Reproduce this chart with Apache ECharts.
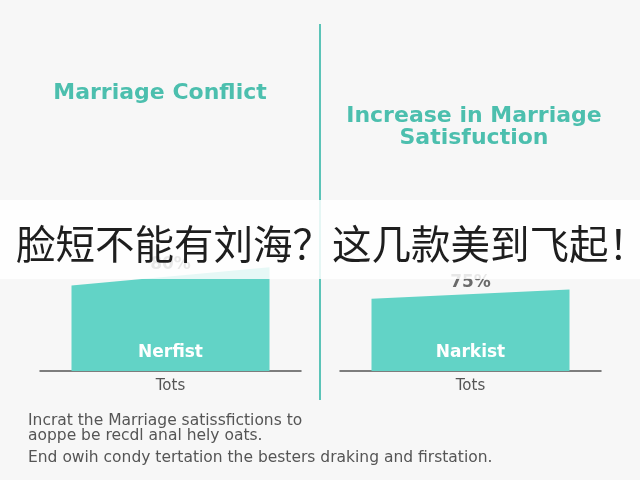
<!DOCTYPE html>
<html><head><meta charset="utf-8">
<script src="https://cdn.jsdelivr.net/npm/echarts@6/dist/echarts.min.js"></script>
<style>html,body{margin:0;padding:0;background:#f7f7f7}#c{width:640px;height:480px}</style>
</head><body><div id="c"></div>
<script>
// ---- data ----
var panelTitles = ['Marriage Conflict', 'Increase in Marriage\nSatisfuction'];
var categories = ['Tots'];
var barNames = ['Nerfist', 'Narkist'];
var valueLabels = ['80%', '75%'];
// bar top heights read at the left and right edges of each (slanted) bar
var leftEdgeValues = [84, 71];
var rightEdgeValues = [102, 80];
var footnotes = ['Incrat the Marriage satissfictions to', 'aoppe be recdl anal hely oats.', 'End owih condy tertation the besters draking and firstation.'];
var bannerText = '脸短不能有刘海？这几款美到飞起！';

var chart = echarts.init(document.getElementById('c'), null, {renderer: 'canvas'});
var teal = '#62d3c6';

function makeRender(panel) {
  return function (params, api) {
    var c = api.value(0);
    var lt = api.coord([c, api.value(1)]);
    var rt = api.coord([c, api.value(2)]);
    var base = api.coord([c, 0]);
    var w = 198;
    var x0 = base[0] - w / 2, x1 = base[0] + w / 2;
    return {
      type: 'group',
      children: [
        {type: 'polygon', shape: {points: [[x0, base[1]], [x0, lt[1]], [x1, rt[1]], [x1, base[1]]]}, style: {fill: teal}},
        {type: 'text', x: base[0], y: base[1] - 18, style: {text: barNames[panel], fill: '#ffffff', font: 'bold 17px "DejaVu Sans"', align: 'center', verticalAlign: 'middle'}},
        {type: 'text', x: base[0], y: (lt[1] + rt[1]) / 2 - 12, style: {text: valueLabels[panel], fill: '#6a6a6a', font: 'bold 17px "DejaVu Sans"', align: 'center', verticalAlign: 'middle'}}
      ]
    };
  };
}

function xAxisFor(i) {
  return {
    type: 'category', gridIndex: i, data: categories,
    axisLine: {show: true, lineStyle: {color: '#555', width: 1.5}},
    axisTick: {show: false},
    axisLabel: {color: '#555', fontSize: 15, fontFamily: 'DejaVu Sans', margin: 8}
  };
}
function yAxisFor(i) {
  return {type: 'value', gridIndex: i, min: 0, max: 110, show: false, splitLine: {show: false}};
}

var option = {
  backgroundColor: '#f7f7f7',
  animation: false,
  grid: [
    {left: 40, width: 261, top: 259, bottom: 109},
    {left: 340, width: 261, top: 259, bottom: 109}
  ],
  xAxis: [xAxisFor(0), xAxisFor(1)],
  yAxis: [yAxisFor(0), yAxisFor(1)],
  series: [
    {type: 'custom', xAxisIndex: 0, yAxisIndex: 0, renderItem: makeRender(0), data: [[0, leftEdgeValues[0], rightEdgeValues[0]]], encode: {x: 0, y: [1, 2]}},
    {type: 'custom', xAxisIndex: 1, yAxisIndex: 1, renderItem: makeRender(1), data: [[0, leftEdgeValues[1], rightEdgeValues[1]]], encode: {x: 0, y: [1, 2]}}
  ],
  graphic: [
    {type: 'line', shape: {x1: 320, y1: 24, x2: 320, y2: 400}, style: {stroke: '#5cc4b8', lineWidth: 2}, z: 1},
    {type: 'text', x: 160, y: 93, style: {text: panelTitles[0], fill: '#4cbfae', font: 'bold 22px "DejaVu Sans"', align: 'center', verticalAlign: 'middle'}},
    {type: 'text', x: 474, y: 127, style: {text: panelTitles[1], fill: '#4cbfae', font: 'bold 22px "DejaVu Sans"', align: 'center', verticalAlign: 'middle', lineHeight: 22}},
    {type: 'text', x: 28, y: 421, style: {text: footnotes[0], fill: '#555', font: '15.5px "DejaVu Sans"', verticalAlign: 'middle'}},
    {type: 'text', x: 28, y: 436, style: {text: footnotes[1], fill: '#555', font: '15.5px "DejaVu Sans"', verticalAlign: 'middle'}},
    {type: 'text', x: 28, y: 458, style: {text: footnotes[2], fill: '#555', font: '15.5px "DejaVu Sans"', verticalAlign: 'middle'}},
    {type: 'rect', shape: {x: 0, y: 200, width: 640, height: 79}, style: {fill: 'rgba(255,255,255,0.84)'}, z: 100},
    {type: 'text', x: 16, y: 244, style: {text: bannerText, fill: '#1e1e1e', font: '39.5px "Noto Sans CJK SC"', verticalAlign: 'middle'}, z: 101}
  ]
};
chart.setOption(option);
</script>
</body></html>
